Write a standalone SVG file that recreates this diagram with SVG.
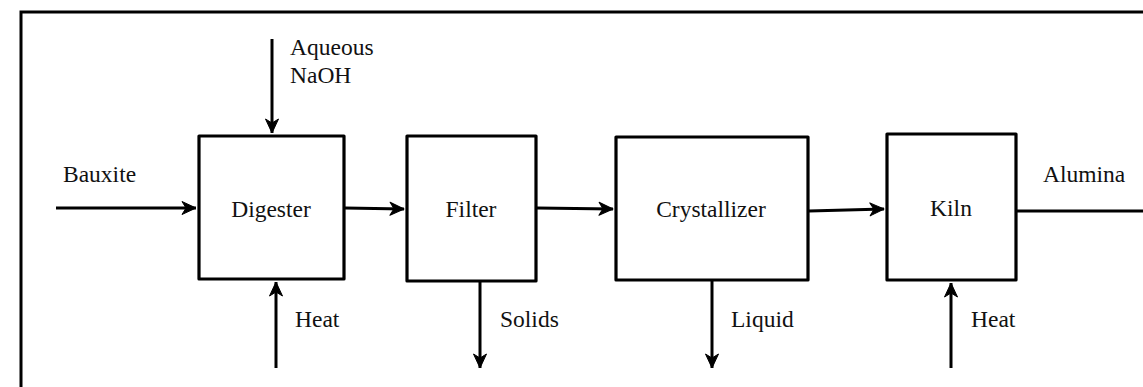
<svg xmlns="http://www.w3.org/2000/svg" width="1143" height="387" viewBox="0 0 1143 387">
<style>
.box{fill:#fff;stroke:#000;stroke-width:3.2;stroke-linejoin:round}
.ln{fill:none;stroke:#000;stroke-width:3}
.t{font-family:'Liberation Serif','DejaVu Serif',serif;font-size:23.5px;fill:#111}
.c{text-anchor:middle}
</style>
<defs>
<marker id="ah" viewBox="0 0 16 16" refX="15" refY="8" markerWidth="16" markerHeight="16" markerUnits="userSpaceOnUse" orient="auto">
<path d="M1,1.5 L15,8 L1,14.5 L5,8 z" fill="#000" stroke="#000" stroke-width="1" stroke-linejoin="round"/>
</marker>
</defs>
<rect width="1143" height="387" fill="#fff"/>
<g id="frame">
<path class="ln" d="M21,388 V12 H1144"/>
</g>
<g id="digester"><rect class="box" x="199" y="136" width="145" height="143"/><text class="t c" x="271" y="217">Digester</text></g>
<g id="filter"><rect class="box" x="407" y="136" width="129" height="145"/><text class="t c" x="471" y="217">Filter</text></g>
<g id="crystallizer"><rect class="box" x="616" y="137" width="192" height="143"/><text class="t c" x="711" y="217">Crystallizer</text></g>
<g id="kiln"><rect class="box" x="887" y="134" width="129" height="146"/><text class="t c" x="951" y="216">Kiln</text></g>
<g id="labels">
<text class="t" x="63" y="182">Bauxite</text>
<text class="t" x="290" y="55">Aqueous</text>
<text class="t" x="290" y="83">NaOH</text>
<text class="t" x="295" y="327">Heat</text>
<text class="t" x="500" y="327">Solids</text>
<text class="t" x="731" y="327">Liquid</text>
<text class="t" x="971" y="327">Heat</text>
<text class="t" x="1043" y="182">Alumina</text>
</g>
<g id="connectors">
<line class="ln" x1="56" y1="208" x2="196" y2="208" marker-end="url(#ah)"/>
<line class="ln" x1="272" y1="39" x2="272" y2="133" marker-end="url(#ah)"/>
<line class="ln" x1="276" y1="368" x2="276" y2="282" marker-end="url(#ah)"/>
<line class="ln" x1="345" y1="208" x2="404" y2="209" marker-end="url(#ah)"/>
<line class="ln" x1="537" y1="208" x2="613" y2="209" marker-end="url(#ah)"/>
<line class="ln" x1="480" y1="282" x2="480" y2="368" marker-end="url(#ah)"/>
<line class="ln" x1="712" y1="281" x2="712" y2="368" marker-end="url(#ah)"/>
<line class="ln" x1="809" y1="211" x2="884" y2="209" marker-end="url(#ah)"/>
<line class="ln" x1="951" y1="368" x2="951" y2="283" marker-end="url(#ah)"/>
<line class="ln" x1="1017" y1="211" x2="1144" y2="211"/>
</g>
</svg>
